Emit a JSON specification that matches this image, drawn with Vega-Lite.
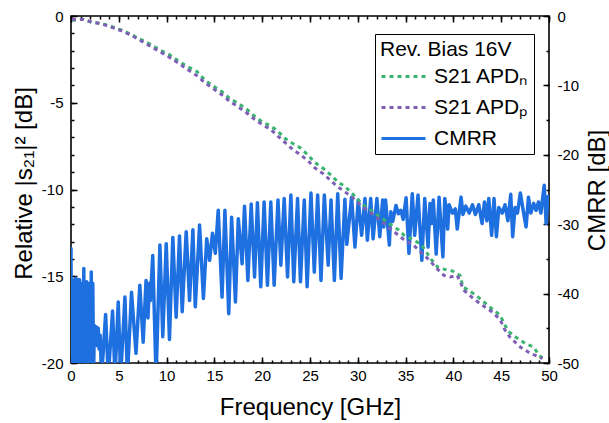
{
  "$schema": "https://vega.github.io/schema/vega-lite/v6.json",
  "width": 478,
  "height": 347,
  "autosize": "none",
  "padding": {"left": 71, "top": 16, "right": 60, "bottom": 60},
  "config": {
    "font": "Liberation Sans",
    "view": {"stroke": "black", "strokeWidth": 1.6},
    "axis": {"grid": false, "domain": false, "labelFlush": false, "labelColor": "black", "titleColor": "black", "tickColor": "black", "labelFontSize": 15, "titleFontSize": 24, "titleFontWeight": "normal", "tickWidth": 1.5, "labelExpr": "replace(datum.label, '−', '-')"}
  },
  "datasets": {
    "s21": [
      {"f": 0.1, "s": -0.25, "series": "S21 APDₙ"}, {"f": 1.3, "s": -0.19, "series": "S21 APDₙ"}, {"f": 2.2, "s": -0.38, "series": "S21 APDₙ"}, {"f": 3.2, "s": -0.42, "series": "S21 APDₙ"}, {"f": 4.3, "s": -0.62, "series": "S21 APDₙ"}, {"f": 5.3, "s": -0.81, "series": "S21 APDₙ"}, {"f": 6.2, "s": -1.04, "series": "S21 APDₙ"}, {"f": 7.2, "s": -1.33, "series": "S21 APDₙ"}, {"f": 8.3, "s": -1.63, "series": "S21 APDₙ"}, {"f": 9.3, "s": -1.96, "series": "S21 APDₙ"}, {"f": 10.2, "s": -2.19, "series": "S21 APDₙ"}, {"f": 11.2, "s": -2.58, "series": "S21 APDₙ"}, {"f": 12.1, "s": -2.89, "series": "S21 APDₙ"}, {"f": 13.2, "s": -3.21, "series": "S21 APDₙ"}, {"f": 14.0, "s": -3.69, "series": "S21 APDₙ"}, {"f": 14.9, "s": -4.04, "series": "S21 APDₙ"}, {"f": 15.8, "s": -4.37, "series": "S21 APDₙ"}, {"f": 16.6, "s": -4.75, "series": "S21 APDₙ"}, {"f": 17.5, "s": -5.04, "series": "S21 APDₙ"}, {"f": 18.3, "s": -5.33, "series": "S21 APDₙ"}, {"f": 19.2, "s": -5.77, "series": "S21 APDₙ"}, {"f": 20.1, "s": -6.15, "series": "S21 APDₙ"}, {"f": 20.8, "s": -6.3, "series": "S21 APDₙ"}, {"f": 21.6, "s": -6.62, "series": "S21 APDₙ"}, {"f": 22.4, "s": -7.06, "series": "S21 APDₙ"}, {"f": 23.2, "s": -7.35, "series": "S21 APDₙ"}, {"f": 24.0, "s": -7.6, "series": "S21 APDₙ"}, {"f": 24.8, "s": -8.02, "series": "S21 APDₙ"}, {"f": 25.5, "s": -8.44, "series": "S21 APDₙ"}, {"f": 26.4, "s": -8.79, "series": "S21 APDₙ"}, {"f": 27.2, "s": -9.17, "series": "S21 APDₙ"}, {"f": 27.9, "s": -9.56, "series": "S21 APDₙ"}, {"f": 28.7, "s": -9.85, "series": "S21 APDₙ"}, {"f": 29.5, "s": -10.27, "series": "S21 APDₙ"}, {"f": 30.4, "s": -10.81, "series": "S21 APDₙ"}, {"f": 31.5, "s": -11.25, "series": "S21 APDₙ"}, {"f": 32.5, "s": -11.65, "series": "S21 APDₙ"}, {"f": 33.5, "s": -12.05, "series": "S21 APDₙ"}, {"f": 34.2, "s": -12.3, "series": "S21 APDₙ"}, {"f": 34.85, "s": -12.64, "series": "S21 APDₙ"}, {"f": 35.9, "s": -12.93, "series": "S21 APDₙ"}, {"f": 36.6, "s": -13.16, "series": "S21 APDₙ"}, {"f": 37.1, "s": -13.54, "series": "S21 APDₙ"}, {"f": 37.7, "s": -14.04, "series": "S21 APDₙ"}, {"f": 38.4, "s": -14.5, "series": "S21 APDₙ"}, {"f": 39.2, "s": -14.62, "series": "S21 APDₙ"}, {"f": 39.9, "s": -14.7, "series": "S21 APDₙ"}, {"f": 40.7, "s": -14.95, "series": "S21 APDₙ"}, {"f": 41.0, "s": -15.62, "series": "S21 APDₙ"}, {"f": 41.6, "s": -15.81, "series": "S21 APDₙ"}, {"f": 42.5, "s": -16.16, "series": "S21 APDₙ"}, {"f": 43.8, "s": -16.77, "series": "S21 APDₙ"}, {"f": 44.9, "s": -17.25, "series": "S21 APDₙ"}, {"f": 45.3, "s": -17.73, "series": "S21 APDₙ"}, {"f": 45.8, "s": -18.2, "series": "S21 APDₙ"}, {"f": 46.5, "s": -18.5, "series": "S21 APDₙ"}, {"f": 47.55, "s": -18.89, "series": "S21 APDₙ"}, {"f": 48.4, "s": -19.08, "series": "S21 APDₙ"}, {"f": 48.95, "s": -19.56, "series": "S21 APDₙ"}, {"f": 49.3, "s": -19.7, "series": "S21 APDₙ"},
      {"f": 0.1, "s": -0.2, "series": "S21 APDₚ"}, {"f": 1.3, "s": -0.2, "series": "S21 APDₚ"}, {"f": 2.2, "s": -0.35, "series": "S21 APDₚ"}, {"f": 3.2, "s": -0.45, "series": "S21 APDₚ"}, {"f": 4.3, "s": -0.66, "series": "S21 APDₚ"}, {"f": 5.3, "s": -0.86, "series": "S21 APDₚ"}, {"f": 6.2, "s": -1.08, "series": "S21 APDₚ"}, {"f": 7.2, "s": -1.4, "series": "S21 APDₚ"}, {"f": 8.3, "s": -1.75, "series": "S21 APDₚ"}, {"f": 9.3, "s": -2.05, "series": "S21 APDₚ"}, {"f": 10.2, "s": -2.35, "series": "S21 APDₚ"}, {"f": 11.2, "s": -2.7, "series": "S21 APDₚ"}, {"f": 12.1, "s": -3.05, "series": "S21 APDₚ"}, {"f": 13.2, "s": -3.45, "series": "S21 APDₚ"}, {"f": 14.0, "s": -3.85, "series": "S21 APDₚ"}, {"f": 14.9, "s": -4.2, "series": "S21 APDₚ"}, {"f": 15.8, "s": -4.55, "series": "S21 APDₚ"}, {"f": 16.6, "s": -4.92, "series": "S21 APDₚ"}, {"f": 17.5, "s": -5.25, "series": "S21 APDₚ"}, {"f": 18.3, "s": -5.55, "series": "S21 APDₚ"}, {"f": 19.2, "s": -5.95, "series": "S21 APDₚ"}, {"f": 20.1, "s": -6.3, "series": "S21 APDₚ"}, {"f": 20.8, "s": -6.5, "series": "S21 APDₚ"}, {"f": 21.6, "s": -6.9, "series": "S21 APDₚ"}, {"f": 22.4, "s": -7.3, "series": "S21 APDₚ"}, {"f": 23.2, "s": -7.7, "series": "S21 APDₚ"}, {"f": 24.0, "s": -8.0, "series": "S21 APDₚ"}, {"f": 24.8, "s": -8.35, "series": "S21 APDₚ"}, {"f": 25.5, "s": -8.75, "series": "S21 APDₚ"}, {"f": 26.4, "s": -9.1, "series": "S21 APDₚ"}, {"f": 27.2, "s": -9.5, "series": "S21 APDₚ"}, {"f": 27.9, "s": -9.85, "series": "S21 APDₚ"}, {"f": 28.6, "s": -10.1, "series": "S21 APDₚ"}, {"f": 29.5, "s": -10.5, "series": "S21 APDₚ"}, {"f": 30.5, "s": -11.0, "series": "S21 APDₚ"}, {"f": 31.5, "s": -11.4, "series": "S21 APDₚ"}, {"f": 32.5, "s": -11.85, "series": "S21 APDₚ"}, {"f": 33.6, "s": -12.35, "series": "S21 APDₚ"}, {"f": 34.4, "s": -12.7, "series": "S21 APDₚ"}, {"f": 35.1, "s": -13.02, "series": "S21 APDₚ"}, {"f": 35.7, "s": -13.12, "series": "S21 APDₚ"}, {"f": 36.2, "s": -13.41, "series": "S21 APDₚ"}, {"f": 37.5, "s": -14.08, "series": "S21 APDₚ"}, {"f": 38.2, "s": -14.52, "series": "S21 APDₚ"}, {"f": 39.0, "s": -14.95, "series": "S21 APDₚ"}, {"f": 39.7, "s": -15.04, "series": "S21 APDₚ"}, {"f": 40.4, "s": -14.95, "series": "S21 APDₚ"}, {"f": 41.1, "s": -15.81, "series": "S21 APDₚ"}, {"f": 42.1, "s": -16.29, "series": "S21 APDₚ"}, {"f": 42.8, "s": -16.58, "series": "S21 APDₚ"}, {"f": 44.05, "s": -17.06, "series": "S21 APDₚ"}, {"f": 44.9, "s": -17.5, "series": "S21 APDₚ"}, {"f": 45.3, "s": -18.02, "series": "S21 APDₚ"}, {"f": 45.9, "s": -18.5, "series": "S21 APDₚ"}, {"f": 47.0, "s": -19.08, "series": "S21 APDₚ"}, {"f": 48.1, "s": -19.46, "series": "S21 APDₚ"}, {"f": 49.05, "s": -19.66, "series": "S21 APDₚ"}, {"f": 49.3, "s": -19.75, "series": "S21 APDₚ"}
    ],
    "cmrr": [
      {"f": 0.0, "c": -33.5}, {"f": 0.04, "c": -52}, {"f": 0.1, "c": -38}, {"f": 0.16, "c": -52}, {"f": 0.22, "c": -38.5}, {"f": 0.3, "c": -48}, {"f": 0.36, "c": -38}, {"f": 0.42, "c": -52}, {"f": 0.5, "c": -37.8}, {"f": 0.56, "c": -50}, {"f": 0.62, "c": -38.2}, {"f": 0.7, "c": -47}, {"f": 0.76, "c": -38}, {"f": 0.82, "c": -52}, {"f": 0.9, "c": -38}, {"f": 0.96, "c": -49}, {"f": 1.02, "c": -38.5}, {"f": 1.1, "c": -52}, {"f": 1.18, "c": -40}, {"f": 1.26, "c": -52}, {"f": 1.34, "c": -36.4}, {"f": 1.42, "c": -48}, {"f": 1.5, "c": -38.5}, {"f": 1.56, "c": -52}, {"f": 1.64, "c": -38.3}, {"f": 1.72, "c": -50}, {"f": 1.8, "c": -39}, {"f": 1.88, "c": -52}, {"f": 1.96, "c": -38.5}, {"f": 2.04, "c": -47}, {"f": 2.12, "c": -36.9}, {"f": 2.2, "c": -52}, {"f": 2.28, "c": -38.5}, {"f": 2.36, "c": -52}, {"f": 2.44, "c": -44.6}, {"f": 2.55, "c": -46}, {"f": 2.65, "c": -44.8}, {"f": 2.75, "c": -47.5}, {"f": 2.85, "c": -45.0}, {"f": 2.95, "c": -48}, {"f": 3.05, "c": -46}, {"f": 3.2, "c": -52},
      {"f": 3.62, "c": -43.0}, {"f": 3.9, "c": -52}, {"f": 4.35, "c": -42.5}, {"f": 4.6, "c": -52}, {"f": 4.94, "c": -41.2}, {"f": 5.2, "c": -52}, {"f": 5.64, "c": -40.5}, {"f": 5.9, "c": -52}, {"f": 6.33, "c": -39.8}, {"f": 6.8, "c": -48.6}, {"f": 7.2, "c": -38.8}, {"f": 7.55, "c": -47.0}, {"f": 7.85, "c": -38.1}, {"f": 8.05, "c": -43.5}, {"f": 8.2, "c": -38.5}, {"f": 8.3, "c": -41}, {"f": 8.55, "c": -34.5}, {"f": 8.9, "c": -52},
      {"f": 9.3, "c": -33.0}, {"f": 9.6, "c": -46.2}, {"f": 9.96, "c": -32.8}, {"f": 10.3, "c": -46.6}, {"f": 10.65, "c": -31.9}, {"f": 11.0, "c": -43.4}, {"f": 11.35, "c": -31.7}, {"f": 11.63, "c": -42.6}, {"f": 12.05, "c": -31.1}, {"f": 12.4, "c": -41.0}, {"f": 12.75, "c": -30.8}, {"f": 13.0, "c": -41.9}, {"f": 13.45, "c": -30.1}, {"f": 13.85, "c": -40.7}, {"f": 14.2, "c": -32.1}, {"f": 14.5, "c": -35.2}, {"f": 14.8, "c": -31.3}, {"f": 15.1, "c": -34.2}, {"f": 15.4, "c": -28.0}, {"f": 15.8, "c": -40.5}, {"f": 16.1, "c": -28.0}, {"f": 16.5, "c": -42.9}, {"f": 16.8, "c": -29.0}, {"f": 17.2, "c": -41.2}, {"f": 17.5, "c": -29.2}, {"f": 17.9, "c": -35.7}, {"f": 18.15, "c": -27.4}, {"f": 18.5, "c": -38.1}, {"f": 18.85, "c": -27.1}, {"f": 19.2, "c": -37.6}, {"f": 19.5, "c": -26.9}, {"f": 19.85, "c": -39.0}, {"f": 20.2, "c": -26.8}, {"f": 20.55, "c": -38.8}, {"f": 20.9, "c": -26.8}, {"f": 21.25, "c": -38.8}, {"f": 21.65, "c": -26.5}, {"f": 21.95, "c": -35.9}, {"f": 22.3, "c": -26.3}, {"f": 22.65, "c": -37.6}, {"f": 23.0, "c": -25.8}, {"f": 23.3, "c": -38.3}, {"f": 23.7, "c": -26.3}, {"f": 24.0, "c": -38.3}, {"f": 24.4, "c": -26.5}, {"f": 24.7, "c": -39.0}, {"f": 25.1, "c": -25.5}, {"f": 25.45, "c": -36.9}, {"f": 25.8, "c": -25.8}, {"f": 26.15, "c": -38.1}, {"f": 26.5, "c": -25.8}, {"f": 26.9, "c": -35.9}, {"f": 27.2, "c": -26.5}, {"f": 27.55, "c": -38.1}, {"f": 27.9, "c": -25.6}, {"f": 28.25, "c": -37.8}, {"f": 28.65, "c": -26.4}, {"f": 28.85, "c": -32.9}, {"f": 29.35, "c": -26.1}, {"f": 29.7, "c": -33.3}, {"f": 30.05, "c": -26.5}, {"f": 30.4, "c": -31.6}, {"f": 30.75, "c": -26.3}, {"f": 31.0, "c": -32.3}, {"f": 31.35, "c": -26.3}, {"f": 31.6, "c": -32.1}, {"f": 32.0, "c": -26.3}, {"f": 32.3, "c": -31.8}, {"f": 32.6, "c": -26.5}, {"f": 32.72, "c": -30.4}, {"f": 32.9, "c": -26.5}, {"f": 33.3, "c": -33.0}, {"f": 33.45, "c": -28.2}, {"f": 33.65, "c": -29.6}, {"f": 34.0, "c": -27.3}, {"f": 34.25, "c": -28.5}, {"f": 34.5, "c": -28.0}, {"f": 34.75, "c": -29.3}, {"f": 35.05, "c": -26.2}, {"f": 35.35, "c": -34.2}, {"f": 35.7, "c": -25.6}, {"f": 35.95, "c": -31.6}, {"f": 36.3, "c": -25.8}, {"f": 36.7, "c": -35.2}, {"f": 37.0, "c": -26.3}, {"f": 37.35, "c": -33.3}, {"f": 37.55, "c": -27.0}, {"f": 37.7, "c": -29.9}, {"f": 37.9, "c": -26.5}, {"f": 38.2, "c": -34.3}, {"f": 38.5, "c": -26.1}, {"f": 38.9, "c": -34.7}, {"f": 39.1, "c": -26.3}, {"f": 39.25, "c": -28.0}, {"f": 39.4, "c": -30.7}, {"f": 39.55, "c": -27.2}, {"f": 39.9, "c": -28.4}, {"f": 40.2, "c": -27.8}, {"f": 40.4, "c": -30.7}, {"f": 40.8, "c": -26.1}, {"f": 41.0, "c": -28.6}, {"f": 41.3, "c": -27.4}, {"f": 41.65, "c": -28.4}, {"f": 42.0, "c": -27.2}, {"f": 42.3, "c": -28.6}, {"f": 42.65, "c": -27.2}, {"f": 43.0, "c": -29.9}, {"f": 43.25, "c": -26.8}, {"f": 43.5, "c": -29.5}, {"f": 43.7, "c": -26.3}, {"f": 44.0, "c": -31.6}, {"f": 44.25, "c": -26.3}, {"f": 44.5, "c": -31.8}, {"f": 44.75, "c": -27.6}, {"f": 45.1, "c": -28.4}, {"f": 45.4, "c": -27.2}, {"f": 45.7, "c": -29.5}, {"f": 46.0, "c": -25.7}, {"f": 46.2, "c": -31.8}, {"f": 46.45, "c": -27.6}, {"f": 46.7, "c": -28.4}, {"f": 47.0, "c": -25.5}, {"f": 47.3, "c": -28.0}, {"f": 47.6, "c": -30.4}, {"f": 47.85, "c": -26.1}, {"f": 48.1, "c": -28.4}, {"f": 48.4, "c": -27.0}, {"f": 48.65, "c": -28.0}, {"f": 48.9, "c": -26.8}, {"f": 49.15, "c": -28.4}, {"f": 49.5, "c": -24.4}, {"f": 49.7, "c": -29.9}, {"f": 49.9, "c": -26.0}
    ]
  },
  "layer": [
    {
      "data": {"name": "cmrr"},
      "mark": {"type": "line", "strokeWidth": 3.5, "clip": true, "strokeJoin": "round", "strokeCap": "round"},
      "encoding": {
        "x": {"field": "f", "type": "quantitative", "scale": {"domain": [0, 50], "nice": false}, "axis": {"orient": "top", "values": [0, 5, 10, 15, 20, 25, 30, 35, 40, 45, 50], "labels": false, "title": null, "tickSize": -6}},
        "y": {"field": "c", "type": "quantitative", "scale": {"domain": [-50, 0], "nice": false}, "axis": {"orient": "right", "values": [0, -10, -20, -30, -40, -50], "tickSize": -6, "labelPadding": 14, "title": "CMRR [dB]", "titleAngle": 270, "titleX": 55, "titleY": 174, "titleAlign": "center", "titleBaseline": "alphabetic"}},
        "color": {"datum": "CMRR"},
        "strokeDash": {"datum": "CMRR"}
      }
    },
    {
      "data": {"name": "s21"},
      "mark": {"type": "line", "strokeWidth": 3, "clip": true},
      "encoding": {
        "x": {"field": "f", "type": "quantitative", "scale": {"domain": [0, 50], "nice": false}, "axis": {"orient": "bottom", "values": [0, 5, 10, 15, 20, 25, 30, 35, 40, 45, 50], "tickSize": -6, "labelPadding": 11, "title": "Frequency [GHz]", "titleX": 239, "titleY": 51, "titleAlign": "center", "titleBaseline": "alphabetic"}},
        "y": {"field": "s", "type": "quantitative", "scale": {"domain": [-20, 0], "nice": false}, "axis": {"orient": "left", "values": [0, -5, -10, -15, -20], "tickSize": -6, "labelPadding": 14, "title": "Relative |s₂₁|²  [dB]", "titleAngle": 270, "titleX": -40, "titleY": 167, "titleAlign": "center", "titleBaseline": "alphabetic"}},
        "color": {
          "field": "series", "type": "nominal",
          "scale": {"domain": ["S21 APDₙ", "S21 APDₚ", "CMRR"], "range": ["#3cb371", "#7f5fb6", "#1e6fe0"]},
          "legend": {"title": "Rev. Bias 16V", "orient": "none", "legendX": 304, "legendY": 18, "titleFontSize": 21, "titleFontWeight": "normal", "titleColor": "black", "titlePadding": 4, "labelFontSize": 21, "labelColor": "black", "symbolType": "M-2,0H2", "symbolSize": 484, "symbolOffset": 11, "symbolStrokeWidth": 3, "strokeColor": "black", "fillColor": "white", "padding": 5, "rowPadding": 8, "labelOffset": 18}
        },
        "strokeDash": {
          "field": "series", "type": "nominal",
          "scale": {"domain": ["S21 APDₙ", "S21 APDₚ", "CMRR"], "range": [[4, 4], [4, 4], [1, 0]]},
          "legend": {"title": "Rev. Bias 16V", "orient": "none", "legendX": 304, "legendY": 18, "titleFontSize": 21, "titleFontWeight": "normal", "titleColor": "black", "titlePadding": 4, "labelFontSize": 21, "labelColor": "black", "symbolType": "M-2,0H2", "symbolSize": 484, "symbolOffset": 11, "symbolStrokeWidth": 3, "strokeColor": "black", "fillColor": "white", "padding": 5, "rowPadding": 8, "labelOffset": 18}
        }
      }
    },
    {
      "data": {"name": "s21"},
      "mark": {"type": "point", "opacity": 0},
      "encoding": {
        "x": {"field": "f", "type": "quantitative", "scale": {"domain": [0, 50], "nice": false}, "axis": {"orient": "bottom", "values": [0,1,2,3,4,5,6,7,8,9,10,11,12,13,14,15,16,17,18,19,20,21,22,23,24,25,26,27,28,29,30,31,32,33,34,35,36,37,38,39,40,41,42,43,44,45,46,47,48,49,50], "labels": false, "title": null, "tickSize": -3}},
        "y": {"field": "s", "type": "quantitative", "scale": {"domain": [-20, 0], "nice": false}, "axis": {"orient": "left", "values": [0,-1,-2,-3,-4,-5,-6,-7,-8,-9,-10,-11,-12,-13,-14,-15,-16,-17,-18,-19,-20], "labels": false, "title": null, "tickSize": -3}}
      }
    },
    {
      "data": {"name": "cmrr"},
      "mark": {"type": "point", "opacity": 0},
      "encoding": {
        "x": {"field": "f", "type": "quantitative", "scale": {"domain": [0, 50], "nice": false}, "axis": {"orient": "top", "values": [0,1,2,3,4,5,6,7,8,9,10,11,12,13,14,15,16,17,18,19,20,21,22,23,24,25,26,27,28,29,30,31,32,33,34,35,36,37,38,39,40,41,42,43,44,45,46,47,48,49,50], "labels": false, "title": null, "tickSize": -3}},
        "y": {"field": "c", "type": "quantitative", "scale": {"domain": [-50, 0], "nice": false}, "axis": {"orient": "right", "values": [0,-5,-10,-15,-20,-25,-30,-35,-40,-45,-50], "labels": false, "title": null, "tickSize": -3}}
      }
    }
  ],
  "resolve": {"scale": {"x": "independent", "y": "independent"}}
}
